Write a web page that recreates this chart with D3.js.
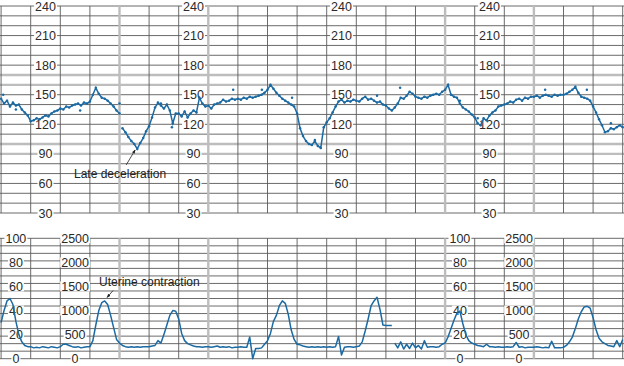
<!DOCTYPE html>
<html>
<head>
<meta charset="utf-8">
<script src="https://cdn.jsdelivr.net/npm/d3@7"></script>
<style>
  body { margin: 0; background: #fff; }
  text { font-family: "Liberation Sans", Arial, sans-serif; }
</style>
</head>
<body>
<div id="chart"></div>
<script>
// one sample every 0.1 grid column
const step = 0.1
const nCols = 21

// fetal heart rate (bpm), 10 samples per column
const fhr = [
  146, 141, 144, 138, 142, 139, 140, 135, 132, 129,
  123, 124, 126, 125, 127, 129, 128, 131, 133, 134,
  136, 135, 138, 137, 139, 140, 141, 139, 142, 141,
  143, 150, 157, 151, 147, 146, 144, 141, 138, 134,
  131, 116, 112, 107, 103, 100, 95, 101, 106, 113,
  118, 127, 137, 142, 139, 136, 140, 134, 121, 131,
  131, 128, 133, 127, 131, 134, 132, 147, 141, 138,
  139, 136, 140, 141, 142, 145, 143, 144, 146, 145,
  146, 145, 147, 146, 148, 147, 148, 149, 150, 152,
  155, 160, 156, 152, 149, 146, 144, 142, 140, 138,
  131, 116, 108, 103, 100, 99, 103, 98, 96, 117,
  122, 126, 132, 138, 143, 145, 142, 144, 143, 145,
  144, 143, 146, 148, 145, 146, 144, 142, 143, 140,
  139, 136, 134, 137, 141, 147, 146, 149, 153, 151,
  148, 147, 146, 148, 147, 149, 150, 151, 150, 153,
  155, 160, 150, 148, 147, 141, 137, 135, 133, 130,
  127, 121, 119, 126, 124, 129, 132, 134, 138, 139,
  140, 141, 143, 142, 145, 146, 144, 147, 146, 148,
  148, 149, 147, 149, 150, 149, 148, 150, 149, 150,
  150, 151, 153, 155, 158, 152, 148, 147, 146, 144,
  138, 132, 125, 119, 112, 113, 116, 115, 117, 119,
  117
]
const fhrBreaks = [41]
// stray FHR dots [column, bpm]
const fhrDots = [[0.07, 150], [2.67, 134], [4.0, 141], [5.77, 117], [7.84, 155], [8.81, 155],
  [9.83, 147], [13.48, 157], [18.38, 155], [19.79, 155], [0.5, 135], [5.4, 141], [10.6, 104],
  [12.7, 149], [15.5, 144], [16.1, 126], [20.6, 121]]

// uterine activity, 10 samples per column
const uc = [
  30, 40, 48, 50, 45, 31, 20, 14, 11, 10,
  10, 9, 9.5, 9, 10, 9.5, 9, 10, 9.5, 9,
  10, 12, 12, 11, 10, 9.5, 10, 9, 9.5, 10,
  10, 15, 28, 40, 46.5, 48, 45, 36, 26, 16,
  13, 11, 10, 9.5, 10, 9.5, 10, 9.5, 10, 10,
  10, 10.5, 11, 15, 13, 20, 28, 36, 40, 39.5,
  33, 21, 15, 12.5, 11.5, 10.5, 10, 10, 9.5, 10,
  10, 9.5, 10, 10.5, 9.5, 10, 9.5, 10, 9, 9.5,
  9.5, 10, 9.5, 9.5, 18, 0, 8.5, 8.5, 9, 12,
  15, 21, 31, 36, 44, 48, 46, 37, 24, 16,
  12, 11.5, 10.5, 10, 9.5, 10, 9.5, 10, 9.5, 10,
  9.5, 10, 9.5, 10, 18.5, 3, 9.5, 10, 10, 9.5,
  10, 10.5, 14, 23, 33, 44, 48, 51, 41, 28,
  27.5, 27.5, 27.5, 13, 9, 14, 8, 12, 8.5, 13,
  9, 11, 8, 15, 9.5, 10, 10, 9.5, 10, 12,
  13, 18, 25, 32, 38, 39.5, 29, 20, 15, 13,
  12, 11, 10.5, 10, 12, 10, 10, 9.5, 10, 9.5,
  9.5, 10, 9.5, 10, 13.5, 9.5, 10, 9, 9.5, 9.5,
  9.5, 10, 9.5, 9, 9.5, 9, 14.5, 9, 9, 9,
  9.5, 11, 14, 18, 25, 33, 39, 43, 43.5, 42,
  34, 24, 17, 14, 12.5, 11, 10.5, 10, 15, 10,
  16
]
const ucBreaks = [133]

const fhrTicks = [240, 210, 180, 150, 120, 90, 60, 30]
const ucTicks = [100, 80, 60, 40, 20, 0]
const ucTicksB = [2500, 2000, 1500, 1000, 500, 0]
const fhrLabelCols = [1.5, 6.5, 11.5, 16.5]
const ucLabelCols = [0.5, 15.5]
const ucLabelColsB = [2.5, 17.5]
const strongCols = [4, 7, 15, 18]
const strongRows = [170, 160, 100, 90]

const width = 624, height = 366
const blue = '#1b6aa3'

const svg = d3.select('#chart').append('svg').attr('width', width).attr('height', height)

const x = d3.scaleLinear().domain([0, nCols]).range([1.1, 622.7])
const yTop = d3.scaleLinear().domain([30, 240]).range([213, 6])
const yBot = d3.scaleLinear().domain([0, 100]).range([358.7, 238.3])

// grids
const grid = svg.append('g')
function drawGrid(y, rows, y0, y1) {
  rows.forEach(v => {
    const strong = y === yTop && strongRows.includes(v)
    grid.append('line').attr('x1', 0).attr('x2', width).attr('y1', y(v)).attr('y2', y(v))
      .attr('stroke', strong ? '#bdbdbd' : '#5a5a5a').attr('stroke-width', strong ? 2.4 : 0.9)
  })
  d3.range(0, nCols + 1).forEach(k => {
    const strong = strongCols.includes(k)
    grid.append('line').attr('x1', x(k)).attr('x2', x(k)).attr('y1', y(y0)).attr('y2', y(y1))
      .attr('stroke', strong ? '#bdbdbd' : '#5a5a5a').attr('stroke-width', strong ? 2.4 : 0.9)
  })
}
drawGrid(yTop, d3.range(30, 241, 10), 30, 240)
drawGrid(yBot, d3.range(0, 16.5).map(i => i * 6.25), 0, 100)

// labels with white backing
function label(cx, cy, txt) {
  const g = svg.append('g')
  const t = g.append('text').attr('x', cx).attr('y', cy).attr('dy', '0.36em')
    .attr('text-anchor', 'middle').attr('font-size', 12.5).attr('fill', '#2a2a2a').text(txt)
  const b = t.node().getBBox()
  g.insert('rect', 'text').attr('x', b.x - 1).attr('y', cy - 5).attr('width', b.width + 2)
    .attr('height', 10).attr('fill', '#fff')
}
fhrLabelCols.forEach(c => fhrTicks.forEach(v => label(x(c), yTop(v), v)))
ucLabelCols.forEach(c => ucTicks.forEach(v => label(x(c), yBot(v), v)))
ucLabelColsB.forEach(c => ucTicksB.forEach((v, i) => label(x(c), yBot(ucTicks[i]), v)))

// split series into segments
function segments(values, breaks) {
  const pts = values.map((v, i) => [i * step, v])
  const cuts = [0, ...breaks, pts.length]
  return d3.range(cuts.length - 1).map(i => pts.slice(cuts[i], cuts[i + 1]))
}

const lineTop = d3.line().x(d => x(d[0])).y(d => yTop(d[1]))
const lineBot = d3.line().x(d => x(d[0])).y(d => yBot(d[1]))

svg.append('g').selectAll('path').data(segments(fhr, fhrBreaks)).enter().append('path')
  .attr('d', lineTop).attr('fill', 'none').attr('stroke', blue).attr('stroke-width', 1.5)
svg.append('g').selectAll('circle').data(fhr.map((v, i) => [i * step, v]).concat(fhrDots)).enter()
  .append('circle').attr('cx', d => x(d[0])).attr('cy', d => yTop(d[1])).attr('r', 1.25).attr('fill', blue)

svg.append('g').selectAll('path').data(segments(uc, ucBreaks)).enter().append('path')
  .attr('d', lineBot).attr('fill', 'none').attr('stroke', blue).attr('stroke-width', 1.5)
  .attr('stroke-linejoin', 'round')

// annotations
svg.append('defs').append('marker').attr('id', 'arr').attr('viewBox', '0 0 10 10')
  .attr('refX', 9).attr('refY', 5).attr('markerWidth', 5).attr('markerHeight', 5)
  .attr('orient', 'auto').append('path').attr('d', 'M0,1L10,5L0,9Z').attr('fill', '#222')

const decel = [4.53, 95]
svg.append('line').attr('x1', x(decel[0]) - 9).attr('y1', yTop(decel[1]) + 16)
  .attr('x2', x(decel[0])).attr('y2', yTop(decel[1]) + 1)
  .attr('stroke', '#222').attr('stroke-width', 0.8).attr('marker-end', 'url(#arr)')
svg.append('text').attr('x', 74).attr('y', 178).attr('font-size', 12).attr('fill', '#222')
  .text('Late deceleration')

const contraction = [3.58, 50]
svg.append('line').attr('x1', x(contraction[0]) + 6).attr('y1', yBot(contraction[1]) - 8)
  .attr('x2', x(contraction[0])).attr('y2', yBot(contraction[1]) - 1)
  .attr('stroke', '#222').attr('stroke-width', 0.8).attr('marker-end', 'url(#arr)')
svg.append('text').attr('x', 99).attr('y', 286).attr('font-size', 12).attr('fill', '#222')
  .text('Uterine contraction')
</script>
</body>
</html>
